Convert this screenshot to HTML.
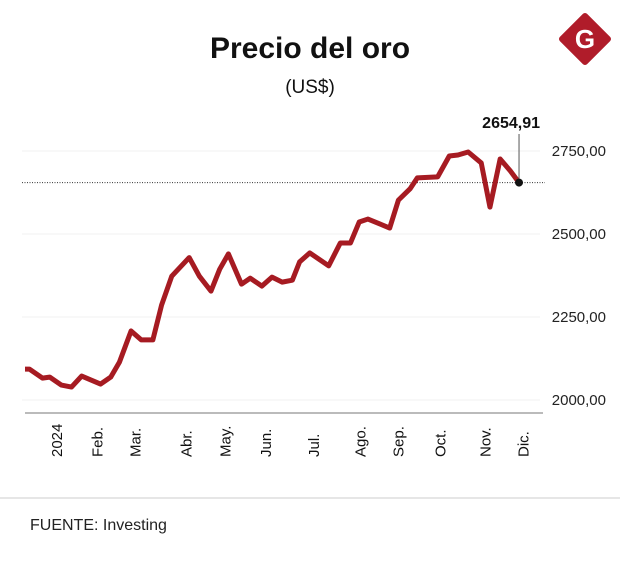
<!DOCTYPE html>
<html><head><meta charset="utf-8"><style>
body{margin:0;background:#fff;width:620px;height:568px;overflow:hidden;font-family:"Liberation Sans",sans-serif}
</style></head><body>
<svg width="620" height="568" font-family="Liberation Sans, sans-serif">
<text x="310" y="58" text-anchor="middle" font-size="30" font-weight="bold" fill="#111">Precio del oro</text>
<text x="310" y="93" text-anchor="middle" font-size="19" fill="#111">(US$)</text>
<g>
<polygon points="585,16 608,39 585,62 562,39" fill="#b01c2a" stroke="#b01c2a" stroke-width="6" stroke-linejoin="round"/>
<text x="585" y="48" text-anchor="middle" font-size="26" font-weight="bold" fill="#fff">G</text>
</g>
<g id="plot"></g>
<line x1="0" y1="498" x2="620" y2="498" stroke="#ccc"/>
<text x="30" y="530" font-size="16" fill="#222">FUENTE: Investing</text>
</svg>
<script>
const days=[0,3,12,17,25,32,39,52,59,65,73,80,88,94,101,113,120,128,134,140,149,155,163,170,177,184,189,196,209,217,224,230,236,251,257,265,270,284,292,298,305,314,320,327,334,340];
const prices=[2093,2093,2066,2069,2045,2039,2072,2048,2069,2114,2208,2181,2181,2286,2373,2429,2373,2328,2394,2440,2349,2367,2343,2370,2355,2361,2416,2443,2404,2473,2473,2536,2545,2518,2602,2636,2669,2672,2735,2738,2747,2714,2581,2726,2690,2654.91];
const monthLabels=["2024","Feb.","Mar.","Abr.","May.","Jun.","Jul.","Ago.","Sep.","Oct.","Nov.","Dic."];
const monthDays=[22,50,76,111,138,166,199,231,257,286,317,343];
const yTicks=[2000,2250,2500,2750];
const yTickLabels=["2000,00","2250,00","2500,00","2750,00"];
const lastLabel="2654,91";
const NS="http://www.w3.org/2000/svg";
const g=document.getElementById('plot');
const x=d=>25+d*1.453;
const y=v=>400-(v-2000)*0.332;
function mk(t,a){const e=document.createElementNS(NS,t);for(const k in a)e.setAttribute(k,a[k]);g.appendChild(e);return e;}
yTicks.forEach((v,i)=>{
 const l=mk('line',{x1:22,x2:540,y1:y(v),y2:y(v),stroke:'#f0f0f0'});
 
 
 const t=mk('text',{x:606,y:y(v)+5,'text-anchor':'end','font-size':15,fill:'#222'});
 t.textContent=yTickLabels[i];
 
 
});
const ax=mk('line',{x1:25,x2:543,y1:413,y2:413,stroke:'#777'});


monthLabels.forEach((m,i)=>{
 const px=x(monthDays[i])+5;
 const t=mk('text',{x:0,y:0,transform:`translate(${px},${457}) rotate(-90)`,'font-size':15,fill:'#111'});
 t.textContent=m;
 
 
});
const last=prices[prices.length-1];
const dl=mk('line',{x1:22,x2:545,y1:y(last),y2:y(last),stroke:'#333','stroke-dasharray':'1,1.5','stroke-width':1});


const path=mk('polyline',{points:days.map((d,i)=>x(d)+','+y(prices[i])).join(' '),fill:'none',stroke:'#a61b22','stroke-width':5,'stroke-linejoin':'round'});


const lx=x(days[days.length-1]);
const ll=mk('line',{x1:lx,x2:lx,y1:134,y2:y(last),stroke:'#555'});


const dot=mk('circle',{cx:lx,cy:y(last),r:4,fill:'#111'});


const lt=mk('text',{x:lx+21,y:128,'text-anchor':'end','font-size':16,'font-weight':'bold',fill:'#111'});
lt.textContent=lastLabel;


</script>
</body></html>
